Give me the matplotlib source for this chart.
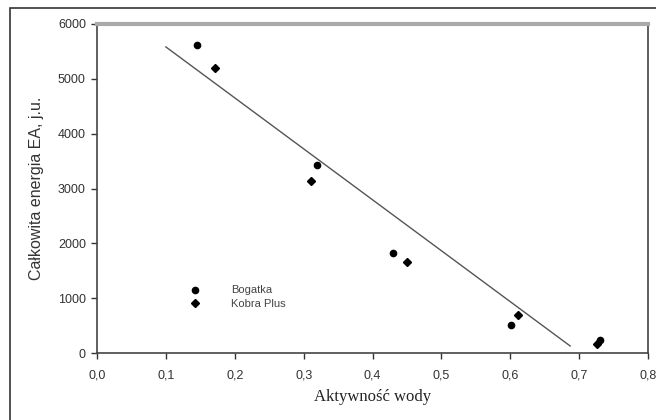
import matplotlib
matplotlib.use('Agg')
import matplotlib.pyplot as plt
from matplotlib.patches import Rectangle
from matplotlib.lines import Line2D

# dane
bogatka_x = [0.145, 0.319, 0.430, 0.601, 0.730]
bogatka_y = [5617, 3429, 1824, 511, 237]
kobra_x = [0.172, 0.311, 0.450, 0.611, 0.726]
kobra_y = [5198, 3137, 1660, 693, 164]
trend_x = [0.10, 0.687]
trend_y = [5582, 128]

x_ticks = [0.0, 0.1, 0.2, 0.3, 0.4, 0.5, 0.6, 0.7, 0.8]
x_labels = ['0,0', '0,1', '0,2', '0,3', '0,4', '0,5', '0,6', '0,7', '0,8']
y_ticks = [0, 1000, 2000, 3000, 4000, 5000, 6000]

plt.rcParams['font.family'] = ['Liberation Sans', 'DejaVu Sans']

fig = plt.figure(figsize=(6.56, 4.2), dpi=100)
ax = fig.add_axes([97 / 656, 1 - 353 / 420, 551 / 656, 329 / 420])

# ramka wokół całego rysunku
fig.patches.append(Rectangle((10 / 656, -0.05), 1.2, 1.05 - 8 / 420,
                             transform=fig.transFigure, fill=False,
                             edgecolor='#333333', linewidth=1.2))

ax.plot(trend_x, trend_y, color='#555555', linewidth=1.0)
ax.plot(bogatka_x, bogatka_y, 'o', color='black', markersize=4.5)
ax.plot(kobra_x, kobra_y, 'D', color='black', markersize=4)

ax.set_xlim(0, 0.8)
ax.set_ylim(0, 6000)
ax.set_xticks(x_ticks)
ax.set_xticklabels(x_labels)
ax.set_yticks(y_ticks)
ax.tick_params(direction='out', length=4, width=1, labelsize=9,
               colors='#333333', pad=4)
ax.tick_params(axis='x', pad=8)

for side in ['left', 'bottom', 'right']:
    ax.spines[side].set_color('#444444')
    ax.spines[side].set_linewidth(1.2)
ax.spines['top'].set_color('#aaaaaa')
ax.spines['top'].set_linewidth(3)

ax.set_xlabel('Aktywność wody', family=['Liberation Serif', 'DejaVu Serif'],
              fontsize=12, color='#222222', labelpad=5)
ax.set_ylabel('Całkowita energia EA, j.u.', fontsize=11.5,
              color='#333333', labelpad=10)

handles = [Line2D([], [], marker='o', linestyle='', color='black', markersize=4.5),
           Line2D([], [], marker='D', linestyle='', color='black', markersize=4)]
ax.legend(handles, ['Bogatka', 'Kobra Plus'], loc='center left',
          bbox_to_anchor=(0.14, 0.17), frameon=False, fontsize=8,
          handletextpad=2.2, labelspacing=0.3, labelcolor='#444444')

fig.savefig('out.png', dpi=100)
